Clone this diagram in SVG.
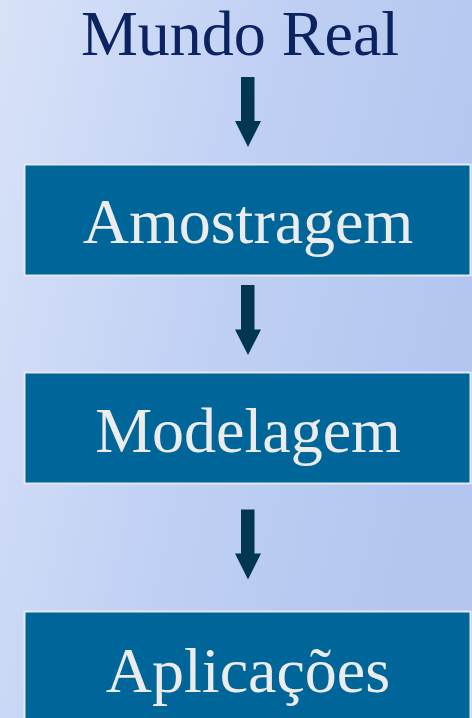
<svg xmlns="http://www.w3.org/2000/svg" width="472" height="718" viewBox="0 0 472 718">
  <defs>
    <linearGradient id="bg" x1="0" y1="0" x2="1" y2="0.35">
      <stop offset="0" stop-color="#d8e2f8"/>
      <stop offset="0.55" stop-color="#c0d0f4"/>
      <stop offset="1" stop-color="#b4c6f0"/>
    </linearGradient>
    <style>
      .box { fill: #006699; stroke: #e4e8f2; stroke-width: 2; }
      .lbl { font-family: "Liberation Serif", "Times New Roman", serif; font-size: 64px; text-anchor: middle; fill: #ececec; }
      .title { font-family: "Liberation Serif", "Times New Roman", serif; font-size: 64px; text-anchor: middle; fill: #0b2361; }
      .arr { fill: #00364f; }
    </style>
  </defs>
  <rect x="0" y="0" width="472" height="718" fill="url(#bg)"/>

  <g id="mundo-real">
    <text class="title" x="240" y="55">Mundo Real</text>
  </g>

  <g id="amostragem">
    <rect class="box" x="24.5" y="164.5" width="446" height="111"/>
    <text class="lbl" x="248" y="243">Amostragem</text>
  </g>

  <g id="modelagem">
    <rect class="box" x="24.5" y="372.5" width="446" height="111"/>
    <text class="lbl" x="248" y="451.5">Modelagem</text>
  </g>

  <g id="aplicacoes">
    <rect class="box" x="24.5" y="611.5" width="446" height="111"/>
    <text class="lbl" x="248" y="691.5">Aplicações</text>
  </g>

  <g id="connectors">
    <polygon class="arr" points="241,77 254.5,77 254.5,121 261,121 248,147 235,121 241,121"/>
    <polygon class="arr" points="241,285 254.5,285 254.5,329.5 261,329.5 248,355 235,329.5 241,329.5"/>
    <polygon class="arr" points="241,509.5 254.5,509.5 254.5,553.5 261,553.5 248,579.5 235,553.5 241,553.5"/>
  </g>
</svg>
